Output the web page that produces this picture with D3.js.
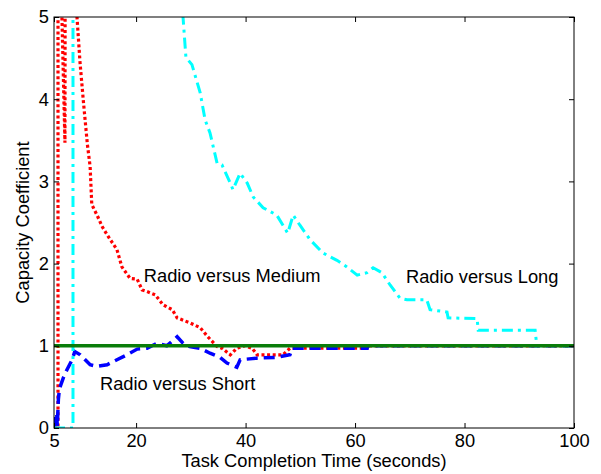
<!DOCTYPE html>
<html>
<head>
<meta charset="utf-8">
<script src="https://cdn.jsdelivr.net/npm/d3@7"></script>
<style>
  body { margin: 0; background: #fff; }
  text { font-family: "Liberation Sans", Arial, sans-serif; fill: #000; }
</style>
</head>
<body>
<div id="chart"></div>
<script>
// Capacity coefficient curves
const xTicks = [5, 20, 40, 60, 80, 100];
const yTicks = [0, 1, 2, 3, 4, 5];

// Radio versus Short (blue dashed)
const shortX = [5, 5.1, 5.5, 5.6, 5.8, 6.0, 6.7, 7.3, 8.3, 8.8, 9.8, 10.7, 11.6, 12.8, 14.7, 16.5, 18.3, 20.2, 22.0, 23.8, 25.6, 27.5, 28.6, 29.8, 31.7, 33.5, 35.3, 36.6, 38.4, 39.0, 42.1, 45.7, 48.1, 48.5, 62.2, 62.3, 100];
const shortY = [0, 0.17, 0.17, 0.02, 0.35, 0.48, 0.61, 0.70, 0.83, 0.93, 0.89, 0.83, 0.77, 0.75, 0.77, 0.83, 0.89, 0.96, 0.97, 1.03, 1.00, 1.11, 1.03, 0.99, 0.97, 0.91, 0.86, 0.79, 0.74, 0.83, 0.85, 0.86, 0.89, 0.97, 0.97, 1.0, 1.0];

// Radio versus Medium (red dotted)
const mediumX = [5, 5.73, 5.73, 6.2, 6.45, 7.0, 7.05, 9.0, 9.2, 9.75, 10.4, 11.1, 11.6, 11.9, 13.0, 13.8, 14.9, 16.5, 17.4, 18.9, 20.2, 21.1, 22.0, 23.5, 24.9, 26.6, 27.5, 29.8, 31.7, 33.1, 34.8, 35.7, 37.2, 38.4, 39.9, 41.2, 42.1, 43.9, 46.8, 48.1, 62.2, 62.3, 100];
const mediumY = [0, 0, 6, 6, 5.0, 3.47, 6, 6, 5.0, 4.45, 3.95, 3.45, 3.18, 2.72, 2.57, 2.45, 2.33, 2.17, 1.96, 1.82, 1.81, 1.68, 1.66, 1.62, 1.50, 1.44, 1.34, 1.28, 1.22, 1.11, 0.99, 0.97, 0.89, 0.97, 1.0, 0.97, 0.89, 0.89, 0.89, 0.97, 0.97, 1.0, 1.0];

// Radio versus Long (cyan dash-dot)
const longX = [5, 8.47, 8.47, 28.3, 28.57, 29.1, 30.2, 31.7, 32.6, 33.5, 34.8, 35.7, 37.2, 37.7, 39.0, 40.3, 41.4, 43.2, 45.7, 47.7, 48.7, 49.9, 51.8, 54.1, 56.7, 58.5, 60.4, 62.2, 63.3, 64.9, 66.4, 68.2, 69.5, 73.1, 73.7, 76.8, 77.0, 82.3, 82.5, 92.9, 93.2, 100];
const longY = [0, 0, 7, 7, 5.0, 4.51, 4.42, 4.08, 3.75, 3.59, 3.22, 3.20, 2.98, 2.90, 3.10, 2.98, 2.81, 2.68, 2.59, 2.37, 2.59, 2.47, 2.29, 2.13, 2.04, 1.96, 1.86, 1.89, 1.95, 1.89, 1.74, 1.58, 1.56, 1.56, 1.44, 1.41, 1.34, 1.33, 1.19, 1.19, 1.0, 1.0];

// Reference line C(t) = 1
const refX = [5, 100];
const refY = [1, 1];

const labels = [
    { text: 'Radio versus Medium', x: 21.4, y: 1.78 },
    { text: 'Radio versus Long', x: 69.3, y: 1.76 },
    { text: 'Radio versus Short', x: 13.4, y: 0.46 }
];

const W = 601, H = 474;
const margin = { left: 54, top: 17, right: 27, bottom: 46 };
const innerW = W - margin.left - margin.right;
const innerH = H - margin.top - margin.bottom;
const fontSize = '18.3px';

const svg = d3.select('#chart').append('svg')
    .attr('width', W)
    .attr('height', H);

const x = d3.scaleLinear().domain([5, 100]).range([0, innerW]);
const y = d3.scaleLinear().domain([0, 5]).range([innerH, 0]);

const g = svg.append('g').attr('transform', `translate(${margin.left},${margin.top})`);

svg.append('defs').append('clipPath').attr('id', 'plotClip')
    .append('rect').attr('width', innerW).attr('height', innerH);

const line = d3.line().x(d => x(d[0])).y(d => y(d[1]));
const zipPts = (xs, ys) => xs.map((v, i) => [v, ys[i]]);

const series = [
    { xs: mediumX, ys: mediumY, color: '#ff0000', width: 3.2, dash: '3,2.6' },
    { xs: shortX, ys: shortY, color: '#0000ff', width: 3.5, dash: '11,6' },
    { xs: longX, ys: longY, color: '#00ffff', width: 3, dash: '11,5,3,5' },
    { xs: refX, ys: refY, color: '#0a7d0a', width: 3.5, dash: null }
];

const plot = g.append('g').attr('clip-path', 'url(#plotClip)');
series.forEach(s => {
    plot.append('path')
        .attr('d', line(zipPts(s.xs, s.ys)))
        .attr('fill', 'none')
        .attr('stroke', s.color)
        .attr('stroke-width', s.width)
        .attr('stroke-dasharray', s.dash);
});

// Axes box with inward ticks on all sides (MATLAB style)
const tickLen = 5;
const axisStyle = sel => {
    sel.select('.domain').remove();
    sel.selectAll('line').attr('stroke', '#000');
    sel.selectAll('text').attr('font-size', fontSize).attr('font-family', '"Liberation Sans", Arial, sans-serif');
};

g.append('g').attr('transform', `translate(0,${innerH})`)
    .call(d3.axisBottom(x).tickValues(xTicks).tickSizeInner(-tickLen).tickSizeOuter(0).tickPadding(6).tickFormat(d3.format('d')))
    .call(axisStyle);
g.append('g')
    .call(d3.axisTop(x).tickValues(xTicks).tickSizeInner(-tickLen).tickSizeOuter(0).tickFormat(''))
    .call(axisStyle);
g.append('g')
    .call(d3.axisLeft(y).tickValues(yTicks).tickSizeInner(-tickLen).tickSizeOuter(0).tickPadding(5).tickFormat(d3.format('d')))
    .call(axisStyle);
g.append('g').attr('transform', `translate(${innerW},0)`)
    .call(d3.axisRight(y).tickValues(yTicks).tickSizeInner(-tickLen).tickSizeOuter(0).tickFormat(''))
    .call(axisStyle);

g.append('rect')
    .attr('width', innerW).attr('height', innerH)
    .attr('fill', 'none').attr('stroke', '#000').attr('stroke-width', 1);

// Annotations
g.selectAll('.note').data(labels).enter().append('text')
    .attr('class', 'note')
    .attr('x', d => x(d.x))
    .attr('y', d => y(d.y))
    .attr('font-size', fontSize)
    .text(d => d.text);

// Axis titles
svg.append('text')
    .attr('x', margin.left + innerW / 2)
    .attr('y', 467)
    .attr('text-anchor', 'middle')
    .attr('font-size', fontSize)
    .text('Task Completion Time (seconds)');

svg.append('text')
    .attr('transform', `translate(29,${margin.top + innerH / 2}) rotate(-90)`)
    .attr('text-anchor', 'middle')
    .attr('font-size', fontSize)
    .text('Capacity Coefficient');
</script>
</body>
</html>
